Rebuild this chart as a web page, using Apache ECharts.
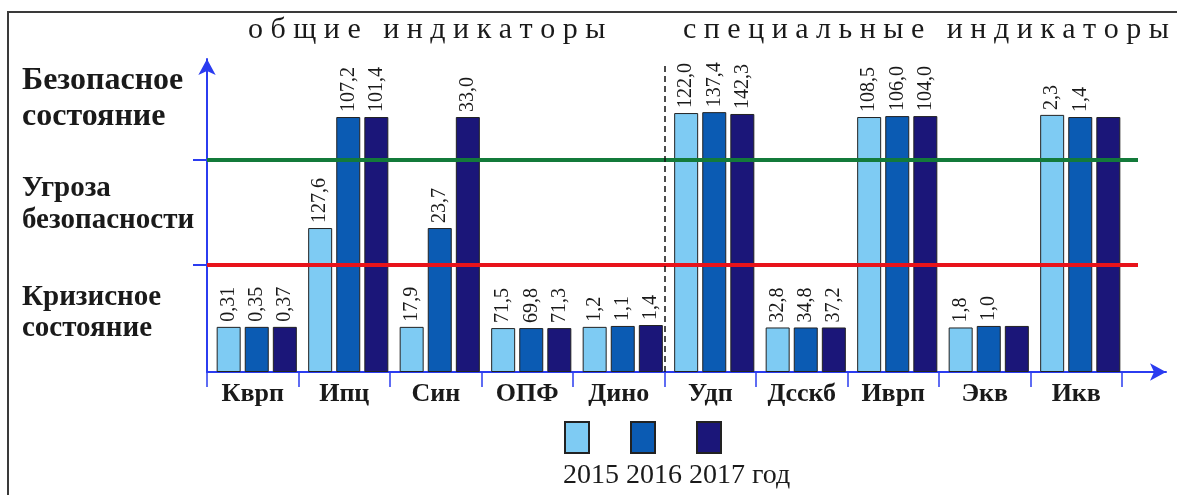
<!DOCTYPE html>
<html>
<head>
<meta charset="utf-8">
<script src="https://cdn.jsdelivr.net/npm/echarts@6/dist/echarts.min.js"></script>
<style>
  html, body { margin: 0; padding: 0; background: #fff; }
  #chart { width: 1177px; height: 495px; }
</style>
</head>
<body>
<div id="chart"></div>
<script>
// ---------- data ----------
const categories = ['Кврп', 'Ипц', 'Син', 'ОПФ', 'Дино', 'Удп', 'Дсскб', 'Иврп', 'Экв', 'Икв'];
const years = ['2015', '2016', '2017'];
const yearWord = 'год';

// schematic bar heights (0..100 scale of the vertical arrow)
const heights2015 = [14.8, 47.2, 14.8, 14.4, 14.8, 84.9, 14.6, 83.6, 14.6, 84.3];
const heights2016 = [14.8, 83.6, 47.2, 14.4, 15.1, 85.2, 14.6, 83.9, 15.1, 83.6];
const heights2017 = [14.8, 83.6, 83.6, 14.4, 15.4, 84.6, 14.6, 83.9, 15.1, 83.6];

// printed values above bars
const labels2015 = ['0,31', '127,6', '17,9', '71,5', '1,2', '122,0', '32,8', '108,5', '1,8', '2,3'];
const labels2016 = ['0,35', '107,2', '23,7', '69,8', '1,1', '137,4', '34,8', '106,0', '1,0', '1,4'];
const labels2017 = ['0,37', '101,4', '33,0', '71,3', '1,4', '142,3', '37,2', '104,0', '', ''];

const levelSafe = 69.5;     // green line
const levelCrisis = 35.1;   // red line
const groupSplitIndex = 5;  // boundary between general and special indicators

const groupTitles = ['общие индикаторы', 'специальные индикаторы'];
const stateLabels = ['Безопасное\nсостояние', 'Угроза\nбезопасности', 'Кризисное\nсостояние'];

// ---------- styles / layout ----------
const W = 1177, H = 495;
const SERIF = 'Liberation Serif';
const BLUE = '#2b3cf0';
const colors = ['#7ecbf3', '#0b5bb3', '#1b1679'];
const Y_MAX = 100;
const BASE = 372, TOP = 67;
const AXIS_TOP = 59;
const AX_LEFT = 207, AX_RIGHT_PX = 1122;
const catW = (AX_RIGHT_PX - AX_LEFT) / categories.length;
const LINE_END = 1138;
const ARROW_END = 1166;

function yMaxFor(top) { return Y_MAX * (BASE - top) / (BASE - TOP); }
function spaced(s) { return s.split('').join(' '); }

const heights = [heights2015, heights2016, heights2017];
const labels = [labels2015, labels2016, labels2017];

const grids = [
  { left: AX_LEFT + 4, right: W - AX_RIGHT_PX - 4, top: TOP, bottom: H - BASE },      // bars
  { left: AX_LEFT, right: W - AX_RIGHT_PX, top: AXIS_TOP, bottom: H - BASE },         // category axis + y axis
  { left: AX_LEFT, right: W - LINE_END, top: 62, bottom: H - BASE },                  // threshold lines
  { left: AX_LEFT, right: W - ARROW_END, top: TOP, bottom: H - BASE }                 // x arrow
];

const option = {
  backgroundColor: '#fff',
  animation: false,
  grid: grids,
  xAxis: [
    { type: 'category', gridIndex: 0, data: categories, show: false },
    {
      type: 'category', gridIndex: 1, data: categories,
      axisLine: { show: false },
      axisTick: { show: true, length: 15, lineStyle: { color: BLUE, width: 1.5 } },
      axisLabel: { fontFamily: SERIF, fontWeight: 'bold', fontSize: 26, color: '#1a1a1a', margin: 9 }
    },
    { type: 'value', gridIndex: 2, min: 0, max: (LINE_END - AX_LEFT) / catW, show: false },
    {
      type: 'value', gridIndex: 3, min: 0, max: 1,
      axisLine: { show: true, onZero: false, symbol: ['none', 'arrow'], symbolSize: [13, 16], lineStyle: { color: BLUE, width: 2 } },
      axisTick: { show: false }, axisLabel: { show: false }, splitLine: { show: false }
    }
  ],
  yAxis: [
    { type: 'value', gridIndex: 0, min: 0, max: Y_MAX, show: false },
    {
      type: 'value', gridIndex: 1, min: 0, max: yMaxFor(AXIS_TOP),
      axisLine: { show: true, symbol: ['none', 'arrow'], symbolSize: [13, 16], lineStyle: { color: BLUE, width: 2 } },
      axisTick: { show: true, customValues: [levelCrisis, levelSafe], length: 14, lineStyle: { color: BLUE, width: 2 } },
      axisLabel: { show: false }, splitLine: { show: false }
    },
    { type: 'value', gridIndex: 2, min: 0, max: yMaxFor(62), show: false },
    { type: 'value', gridIndex: 3, min: 0, max: Y_MAX, show: false }
  ],
  legend: {
    left: 564, top: 421, padding: 0,
    icon: 'rect', itemWidth: 24, itemHeight: 31, itemGap: 40,
    selectedMode: false,
    data: years,
    formatter: () => '',
    textStyle: { fontSize: 1, padding: 0 }
  },
  series: years.map((yr, i) => ({
    name: yr,
    type: 'bar',
    xAxisIndex: 0, yAxisIndex: 0,
    barWidth: 24, barGap: '17%',
    data: heights[i],
    itemStyle: { color: colors[i], borderColor: '#222', borderWidth: 1 },
    label: {
      show: true, position: 'top', rotate: 90, align: 'left', verticalAlign: 'middle',
      distance: 5, fontFamily: SERIF, fontSize: 20, color: '#1a1a1a',
      formatter: p => labels[i][p.dataIndex]
    }
  })).concat([{
    type: 'line', xAxisIndex: 2, yAxisIndex: 2, data: [], z: 5,
    markLine: {
      silent: true, symbol: 'none', label: { show: false }, animation: false,
      data: [
        { yAxis: levelSafe, lineStyle: { color: '#137a3a', width: 4, type: 'solid' } },
        { yAxis: levelCrisis, lineStyle: { color: '#e8131b', width: 4, type: 'solid' } },
        { xAxis: groupSplitIndex, lineStyle: { color: '#111', width: 1.5, type: [6, 4] } }
      ]
    }
  }]),
  graphic: [
    { type: 'rect', silent: true, z: -10, shape: { x: 8, y: 12, width: 1300, height: 600 },
      style: { fill: 'none', stroke: '#3a3a3a', lineWidth: 2 } },
    { type: 'text', left: 248, top: 15, style: { text: spaced(groupTitles[0]), font: '30px "' + SERIF + '"', fill: '#1a1a1a' } },
    { type: 'text', left: 683, top: 15, style: { text: spaced(groupTitles[1]), font: '30px "' + SERIF + '"', fill: '#1a1a1a' } },
    { type: 'text', left: 22, top: 63, style: { text: stateLabels[0], font: 'bold 32px "' + SERIF + '"', lineHeight: 36, fill: '#1a1a1a' } },
    { type: 'text', left: 22, top: 173, style: { text: stateLabels[1], font: 'bold 29px "' + SERIF + '"', lineHeight: 32, fill: '#1a1a1a' } },
    { type: 'text', left: 22, top: 282, style: { text: stateLabels[2], font: 'bold 29px "' + SERIF + '"', lineHeight: 31, fill: '#1a1a1a' } },
    { type: 'text', left: 563, top: 462, style: { text: years.join(' ') + ' ' + yearWord, font: '28px "' + SERIF + '"', fill: '#1a1a1a' } }
  ]
};

const chart = echarts.init(document.getElementById('chart'), null, { renderer: 'canvas' });
chart.setOption(option);
</script>
</body>
</html>
